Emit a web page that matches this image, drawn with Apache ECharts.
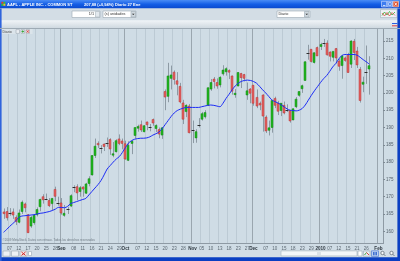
<!DOCTYPE html>
<html><head><meta charset="utf-8">
<script src="https://cdn.jsdelivr.net/npm/echarts@6/dist/echarts.min.js"></script>
<style>html,body{margin:0;padding:0;background:#cfdce5;overflow:hidden}#c{width:400px;height:261px}</style>
</head><body><div id="c"></div>
<script>
// ---- data (AAPL daily, Aug 2009 - Jan 2010) ----
const dates = [
'2009-08-05','2009-08-06','2009-08-07','2009-08-10','2009-08-11','2009-08-12','2009-08-13','2009-08-14','2009-08-17','2009-08-18','2009-08-19','2009-08-20','2009-08-21','2009-08-24','2009-08-25','2009-08-26','2009-08-27','2009-08-28','2009-08-31',
'2009-09-01','2009-09-02','2009-09-03','2009-09-04','2009-09-08','2009-09-09','2009-09-10','2009-09-11','2009-09-14','2009-09-15','2009-09-16','2009-09-17','2009-09-18','2009-09-21','2009-09-22','2009-09-23','2009-09-24','2009-09-25','2009-09-28','2009-09-29','2009-09-30',
'2009-10-01','2009-10-02','2009-10-05','2009-10-06','2009-10-07','2009-10-08','2009-10-09','2009-10-12','2009-10-13','2009-10-14','2009-10-15','2009-10-16','2009-10-19','2009-10-20','2009-10-21','2009-10-22','2009-10-23','2009-10-26','2009-10-27','2009-10-28','2009-10-29','2009-10-30',
'2009-11-02','2009-11-03','2009-11-04','2009-11-05','2009-11-06','2009-11-09','2009-11-10','2009-11-11','2009-11-12','2009-11-13','2009-11-16','2009-11-17','2009-11-18','2009-11-19','2009-11-20','2009-11-23','2009-11-24','2009-11-25','2009-11-27','2009-11-30',
'2009-12-01','2009-12-02','2009-12-03','2009-12-04','2009-12-07','2009-12-08','2009-12-09','2009-12-10','2009-12-11','2009-12-14','2009-12-15','2009-12-16','2009-12-17','2009-12-18','2009-12-21','2009-12-22','2009-12-23','2009-12-24','2009-12-28','2009-12-29','2009-12-30','2009-12-31',
'2010-01-04','2010-01-05','2010-01-06','2010-01-07','2010-01-08','2010-01-11','2010-01-12','2010-01-13','2010-01-14','2010-01-15','2010-01-19','2010-01-20','2010-01-21','2010-01-22','2010-01-25','2010-01-26','2010-01-27','2010-01-28','2010-01-29',
'2010-02-01','2010-02-02'];

const opens = [
165.6,165.7,165.2,165.6,164.0,162.6,165.7,167.9,164.8,161.5,162.5,164.8,167.1,170.0,169.5,168.9,168.0,172.1,168.2,
168.2,164.6,166.4,167.3,172.8,172.9,171.5,172.8,171.0,173.8,176.3,181.9,185.4,184.3,185.2,185.3,186.5,182.0,183.0,186.7,186.1,
185.3,180.5,185.4,187.7,189.8,190.8,188.8,191.6,190.1,192.3,189.7,189.4,187.8,200.4,199.0,204.2,206.0,203.5,201.9,197.1,194.6,196.2,
189.0,187.0,190.7,192.4,193.1,196.4,201.1,204.0,203.0,202.3,205.5,206.1,206.5,204.9,199.5,202.0,205.6,205.3,199.4,201.1,
202.2,198.7,197.0,199.4,193.0,189.2,190.0,198.4,197.0,194.9,196.4,195.3,194.9,192.2,196.0,199.3,201.2,203.6,211.7,212.6,208.8,213.1,
213.4,214.6,214.4,211.8,210.3,212.8,209.2,207.9,210.1,210.9,208.3,214.9,212.1,206.8,202.5,205.95,206.9];
const highs = [
166.6,167.0,166.7,166.6,164.6,166.3,168.9,168.3,165.0,164.4,165.0,166.9,169.4,170.7,170.9,169.6,169.6,172.9,170.0,
169.6,167.6,167.1,170.7,173.3,173.6,173.1,173.0,174.0,175.9,182.0,186.8,186.0,184.9,185.4,187.1,186.9,185.8,186.6,188.0,186.8,
186.2,186.0,186.3,190.0,190.8,192.0,190.7,191.7,191.0,192.6,190.9,190.0,190.1,201.0,208.7,207.9,206.5,206.0,202.9,198.0,196.7,196.8,
192.0,189.5,192.7,194.5,195.0,201.5,204.0,204.6,204.2,204.8,208.0,207.4,206.8,205.0,201.1,206.0,205.8,205.5,203.0,201.4,
202.3,201.0,197.5,199.6,193.5,192.0,197.9,198.9,197.7,197.0,197.5,196.7,195.0,195.5,198.8,200.4,202.4,209.1,213.9,212.7,211.7,213.4,
214.5,215.6,215.2,212.0,212.0,213.0,209.8,210.9,210.5,211.6,215.2,215.6,213.3,207.5,204.7,213.7,210.6];
const lows = [
163.6,163.1,164.5,163.6,161.8,162.3,165.0,165.5,159.5,161.0,161.9,164.3,165.8,168.0,169.0,167.0,166.0,168.7,167.4,
164.8,164.2,165.0,167.0,171.3,169.0,170.0,170.0,170.8,173.0,176.1,181.2,184.1,182.5,183.2,184.4,182.1,181.4,182.8,184.9,183.7,
180.7,180.3,182.3,186.8,188.8,188.7,188.6,189.2,188.9,190.5,188.7,186.9,186.7,195.0,197.3,201.0,202.4,199.3,197.0,191.0,193.0,188.3,
185.5,185.6,190.0,192.0,192.6,196.2,200.6,201.3,201.2,201.6,205.0,205.0,204.0,199.5,198.6,201.9,201.4,203.3,198.0,197.0,
196.3,195.6,195.0,188.8,188.4,187.7,188.5,195.6,193.6,193.3,193.8,194.5,191.4,192.1,195.6,198.9,200.0,203.6,209.6,208.8,208.5,210.7,
212.4,213.3,210.8,209.1,209.1,208.5,206.4,204.1,209.0,205.9,207.2,209.5,207.2,197.2,200.2,202.6,199.5];
const closes = [
165.1,163.9,165.5,164.7,162.8,165.3,168.4,166.8,159.6,164.0,164.6,166.3,169.2,169.1,169.4,167.4,169.5,170.1,168.2,
165.3,165.2,166.6,170.3,172.9,171.1,172.6,172.2,173.7,175.2,181.9,184.6,185.0,184.0,184.5,185.5,183.8,182.4,186.2,185.4,185.4,
180.9,184.9,186.0,190.0,190.3,189.3,190.5,190.8,190.0,191.3,190.6,188.1,189.9,198.8,204.9,205.2,203.9,202.5,197.4,192.4,196.4,188.5,
189.3,188.8,190.8,194.0,194.3,201.5,203.0,203.3,202.0,204.5,206.6,207.0,206.0,200.5,199.9,205.9,204.4,204.2,200.6,199.9,
197.0,196.2,196.5,193.3,189.0,189.9,197.8,196.4,194.7,197.0,194.2,195.0,191.9,195.4,198.2,200.4,202.1,209.0,211.6,209.1,211.6,210.7,
214.0,214.4,211.0,210.6,212.0,210.1,207.7,210.7,209.4,205.9,215.0,211.7,208.1,197.8,203.1,205.9,207.88];

// smoothed average line (blue)
const avgLine = [
159.7,160.5,161.4,162.2,163.0,164.0,164.4,164.5,164.6,164.7,164.8,165.0,165.2,165.3,165.5,165.7,166.0,166.4,166.9,
166.9,166.8,167.2,168.0,168.3,168.6,168.9,169.2,169.5,170.5,171.5,172.5,173.5,174.7,176.3,178.0,179.0,180.0,180.9,181.6,182.8,
184.2,185.5,186.2,186.6,186.8,186.9,186.9,187.0,187.3,187.8,188.2,188.7,189.6,190.8,192.0,193.2,194.2,194.9,195.3,195.6,195.8,195.8,
195.8,195.8,195.8,196.0,196.2,196.4,196.5,196.4,196.2,196.0,197.0,198.4,199.6,200.9,202.0,202.8,203.3,203.6,203.7,203.6,
203.3,202.8,201.9,200.9,200.0,199.0,198.0,197.5,197.1,196.6,196.0,195.4,195.0,194.9,194.8,195.0,195.5,196.5,197.9,199.3,200.6,201.8,
203.0,204.1,205.0,206.2,207.5,208.5,209.8,210.8,211.1,211.1,211.1,211.1,210.9,210.3,209.6,209.0,208.3];

const yTicks = [160,165,170,175,180,185,190,195,200,205,210,215];
const xTickDates = ['2009-08-07','2009-08-12','2009-08-17','2009-08-20','2009-08-25','2009-08-28',
 '2009-09-08','2009-09-11','2009-09-16','2009-09-21','2009-09-24','2009-09-29',
 '2009-10-07','2009-10-12','2009-10-15','2009-10-20','2009-10-23','2009-10-28',
 '2009-11-05','2009-11-10','2009-11-13','2009-11-18','2009-11-23','2009-11-27',
 '2009-12-07','2009-12-10','2009-12-15','2009-12-18','2009-12-23','2009-12-29',
 '2010-01-07','2010-01-12','2010-01-15','2010-01-21','2010-01-26'];
const xTickTexts = ['07','12','17','20','25','28','08','11','16','21','24','29','07','12','15','20','23','28',
 '05','10','13','18','23','27','07','10','15','18','23','29','07','12','15','21','26'];
const monthDates = ['2009-09-01','2009-10-01','2009-11-02','2009-12-01','2010-01-04','2010-02-01'];
const monthTexts = ['Sep','Oct','Nov','Dec','2010','Feb'];

const titleText = 'AAPL - APPLE INC. - COMMON ST';
const quoteText = '207,88 (+0,94%)';
const periodText = 'Diario';
const dateText = '27 Ene';

// ---- build ----
const labelMap = new Map();
xTickDates.forEach((d, k) => labelMap.set(d, xTickTexts[k]));
const monthMap = new Map();
monthDates.forEach((d, k) => monthMap.set(d, monthTexts[k]));

const candleData = closes.map((c, i) => [i, opens[i], c, lows[i], highs[i]]);
const lastClose = closes[closes.length - 1];

const FONT = '"Liberation Sans", Arial, sans-serif';

function renderCandle(params, api) {
  const i = api.value(0), o = api.value(1), c = api.value(2), l = api.value(3), h = api.value(4);
  const po = api.coord([i, o]), pc = api.coord([i, c]), pl = api.coord([i, l]), ph = api.coord([i, h]);
  const slot = api.size([1, 0])[0];
  const bw = Math.max(2, Math.round(slot * 0.7));
  const bx = Math.round(po[0] - bw / 2);
  const wx = bx + Math.floor(bw / 2) + 0.5;
  let top = Math.min(po[1], pc[1]), bot = Math.max(po[1], pc[1]);
  const up = c >= o;
  const children = [{type: 'line', shape: {x1: wx, y1: ph[1], x2: wx, y2: pl[1]},
                     style: {stroke: '#8d9aa4', lineWidth: 1}}];
  if (bot - top < 1.2) {
    const y = Math.round((top + bot) / 2) + 0.5;
    children.push({type: 'line', shape: {x1: bx - 0.5, y1: y, x2: bx + bw + 0.5, y2: y},
                   style: {stroke: '#2e2e2e', lineWidth: 1}});
  } else {
    children.push({type: 'rect', shape: {x: bx, y: top, width: bw, height: bot - top},
      style: {fill: up ? '#22b622' : '#e26060', stroke: up ? '#138a13' : '#b83a3a', lineWidth: 0.5}});
  }
  return {type: 'group', children};
}

const G = echarts.graphic;
function vgrad(stops) {
  return new G.LinearGradient(0, 0, 0, 1, stops.map((c, k) => ({offset: k / (stops.length - 1), color: c})));
}
function rect(x, y, w, h, fill, stroke) {
  return {type: 'rect', z: 50, shape: {x, y, width: w, height: h},
          style: {fill, stroke: stroke || null, lineWidth: stroke ? 0.6 : 0}};
}
function txt(x, y, t, font, fill, align) {
  return {type: 'text', z: 51, x, y, style: {text: t, font, fill, verticalAlign: 'middle', align: align || 'left'}};
}
function ln(x1, y1, x2, y2, stroke, w) {
  return {type: 'line', z: 51, shape: {x1, y1, x2, y2}, style: {stroke, lineWidth: w || 1}};
}
function tri(x, y) {
  return {type: 'polygon', z: 52, shape: {points: [[x - 1.3, y - 0.6], [x + 1.3, y - 0.6], [x, y + 0.8]]}, style: {fill: '#222'}};
}

const TF = 'bold 4px ' + FONT;
const chrome = [
  // title bar
  rect(0, 0, 400, 8.5, vgrad(['#4a8cf5', '#145ee6', '#0a48cc'])),
  rect(1.4, 1.8, 2, 2, '#e23a2a'), rect(3.4, 1.8, 2, 2, '#35c035'), rect(1.4, 3.8, 2, 2, '#35c035'), rect(3.4, 3.8, 2, 2, '#f0c020'),
  txt(7, 4.4, titleText, TF, '#ffffff'),
  txt(84, 4.4, quoteText, TF, '#ffffff'),
  txt(115, 4.4, periodText, TF, '#ffffff'),
  txt(127.5, 4.4, dateText, TF, '#ffffff'),
  rect(381.5, 1.3, 5.2, 5.6, '#3d7cf0', '#dfe8ff'),
  rect(387.3, 1.3, 5.2, 5.6, '#3d7cf0', '#dfe8ff'),
  rect(393.1, 1.3, 5.4, 5.6, '#e0502a', '#ffe0d0'),
  ln(383, 5.6, 385.4, 5.6, '#fff', 0.8),
  {type: 'rect', z: 52, shape: {x: 388.6, y: 2.6, width: 2.6, height: 2.8}, style: {fill: 'none', stroke: '#fff', lineWidth: 0.6}},
  ln(394.6, 2.6, 397, 5.6, '#fff', 0.8), ln(397, 2.6, 394.6, 5.6, '#fff', 0.8),
  // toolbar
  rect(0, 8.5, 400, 11.7, '#d3dde5'),
  rect(72, 11, 28, 6.5, '#ffffff', '#9aa7b1'),
  txt(94, 14.3, '1/1', '3.8px ' + FONT, '#333', 'right'),
  rect(95.5, 11.5, 4, 5.5, '#e3e9ee', '#aab5be'),
  rect(103, 11, 33, 6.5, '#ffffff', '#9aa7b1'),
  txt(104.5, 14.3, '(s) unidades', '3.8px ' + FONT, '#333'),
  rect(131, 11.5, 4.5, 5.5, '#cfd8df', '#9aa7b1'), tri(133.25, 14.3),
  rect(277, 11, 33, 6.5, '#ffffff', '#9aa7b1'),
  txt(278.5, 14.3, periodText, '3.8px ' + FONT, '#333'),
  rect(304.5, 11.5, 4.5, 5.5, '#cfd8df', '#9aa7b1'), tri(306.75, 14.3),
  rect(380.5, 9.6, 16.5, 8, '#eef2f5', '#9fb0bb'),
  {type: 'polyline', z: 52, shape: {points: [[382, 15.5], [384.5, 12], [387, 15], [389.5, 11.5], [392, 15], [395, 12]]}, style: {stroke: '#35b035', lineWidth: 0.8, fill: null}},
  {type: 'polyline', z: 52, shape: {points: [[382, 13], [384.5, 16], [387, 12.5], [389.5, 16], [392, 12.5], [395, 15.5]]}, style: {stroke: '#e05050', lineWidth: 0.8, fill: null}},
  // second strip
  rect(0, 20.2, 400, 8.3, vgrad(['#f1f5f8', '#dfe6eb', '#cdd7df'])),
  ln(392, 23.5, 397.5, 23.5, '#2a5fe0', 1), ln(392, 25.8, 397.5, 25.8, '#e04040', 1),
  ln(0, 28.5, 400, 28.5, '#9eabb5', 1),
  // chart corner label
  rect(1.6, 29, 31, 5, '#dbe4ea'),
  txt(2.5, 31.6, periodText, '3.5px ' + FONT, '#444'),
  rect(16, 29.6, 3.5, 3.8, '#e9eef2', '#a0aab3'), rect(21, 29.6, 3.5, 3.8, '#e9eef2', '#a0aab3'),
  rect(26, 29.6, 3.5, 3.8, '#f1e4e4', '#a0aab3'),
  ln(22.75, 30.2, 22.75, 32.8, '#2ca02c', 0.8), ln(21.5, 31.5, 24, 31.5, '#2ca02c', 0.8),
  ln(26.7, 30.3, 28.8, 32.7, '#d03030', 0.8), ln(28.8, 30.3, 26.7, 32.7, '#d03030', 0.8),
  // copyright line
  txt(2.5, 240.6, '©2009 MetaStock. Datos con retraso. Todos los derechos reservados', '3px ' + FONT, '#6f7b84'),
  // bottom toolbar
  rect(0, 250, 400, 7.2, '#d3dde5'),
  rect(3, 251, 7, 5.2, '#edf1f4', '#9aa7b1'), rect(11.5, 251, 7, 5.2, '#edf1f4', '#9aa7b1'),
  rect(20, 251, 7, 5.2, '#f4e8e8', '#9aa7b1'),
  ln(21.5, 252, 25.5, 255.4, '#d02a2a', 1), ln(25.5, 252, 21.5, 255.4, '#d02a2a', 1),
  rect(28.5, 251.6, 3, 4, '#ffffff', '#9aa7b1'),
  rect(281, 250.9, 76, 5, '#f3f6f8', '#a6b3bc'),
  ln(318, 252, 318, 255, '#a6b3bc', 0.6), ln(320, 252, 320, 255, '#a6b3bc', 0.6),
  rect(358, 251, 4, 5, '#ffffff', '#9aa7b1'),
  rect(363.5, 251, 6.5, 5.2, '#e8eef2', '#9aa7b1'),
  ln(364.5, 255, 366.5, 252.5, '#30a030', 0.9), ln(366.5, 252.5, 369, 255, '#d03030', 0.9),
  rect(371.5, 250.8, 7, 5.6, '#bcd0f0', '#3f6fd0'),
  rect(373, 252, 1.6, 3.2, '#3f6fd0'), rect(375.4, 252, 1.6, 3.2, '#3f6fd0'),
  {type: 'circle', z: 52, shape: {cx: 382.5, cy: 253, r: 1.7}, style: {fill: '#f6f8fa', stroke: '#55606a', lineWidth: 0.7}},
  ln(383.7, 254.2, 385.3, 255.8, '#55606a', 0.9),
  {type: 'circle', z: 52, shape: {cx: 391.5, cy: 253, r: 1.7}, style: {fill: '#f6f8fa', stroke: '#55606a', lineWidth: 0.7}},
  ln(392.7, 254.2, 394.3, 255.8, '#55606a', 0.9),
  // window frame
  rect(0, 257.2, 400, 3.8, '#0b3fc2'),
  rect(0, 8.5, 1.6, 252.5, '#2f64dc'),
  rect(397.4, 8.5, 2.6, 252.5, '#0b3fc2')
];

const chart = echarts.init(document.getElementById('c'), null, {renderer: 'canvas'});
chart.setOption({
  animation: false,
  backgroundColor: '#cfdce5',
  grid: {left: 2, right: 17, top: 29, bottom: 17.5},
  xAxis: [{
    type: 'category', data: dates, boundaryGap: true,
    axisLine: {show: true, lineStyle: {color: '#8e9aa4', width: 1}},
    axisTick: {show: false},
    axisLabel: {
      interval: (idx, val) => labelMap.has(val) || monthMap.has(val),
      formatter: (val) => monthMap.has(val) ? '{m|' + monthMap.get(val) + '}' : (labelMap.get(val) || ''),
      fontSize: 4.5, color: '#5c6872', margin: 2.5, fontFamily: 'Liberation Sans',
      rich: {m: {fontSize: 4.6, fontWeight: 'bold', color: '#2f3840', fontFamily: 'Liberation Sans'}}
    },
    splitLine: {show: true, interval: (idx, val) => labelMap.has(val),
      lineStyle: {color: '#bccad4', width: 1}}
  }, {
    type: 'category', data: dates, boundaryGap: true, position: 'bottom',
    axisLine: {show: false}, axisTick: {show: false}, axisLabel: {show: false},
    splitLine: {show: true, interval: (idx, val) => monthMap.has(val),
      lineStyle: {color: '#9aa6af', width: 1}}
  }],
  yAxis: {
    type: 'value', position: 'right', min: 156.47, max: 218.47,
    axisLine: {show: true, lineStyle: {color: '#8e9aa4', width: 1}},
    axisTick: {show: true, customValues: yTicks, length: 2, lineStyle: {color: '#7e8a94'}},
    axisLabel: {customValues: yTicks, fontSize: 4.5, color: '#56626c', margin: 3, fontFamily: 'Liberation Sans'},
    splitLine: {show: false}
  },
  series: [{
    type: 'custom', name: 'AAPL', xAxisIndex: 0, yAxisIndex: 0,
    data: candleData, renderItem: renderCandle, clip: true, z: 2,
    encode: {x: 0, y: [1, 2, 3, 4]}
  }, {
    type: 'line', name: 'Media', xAxisIndex: 0, data: avgLine, showSymbol: false, smooth: 0.3,
    lineStyle: {color: '#1c2cf5', width: 1}, z: 3,
    markLine: {
      silent: true, symbol: 'none', animation: false,
      data: [{yAxis: lastClose}],
      lineStyle: {opacity: 0},
      label: {show: true, position: 'end', distance: 2,
        formatter: () => lastClose.toFixed(2).replace('.', ','),
        backgroundColor: '#e6b01c', color: '#fffbe8', fontSize: 4.5, fontFamily: 'Liberation Sans',
        padding: [1.2, 1.6, 1, 1.6], borderColor: '#b98a10', borderWidth: 0.5}
    }
  }],
  graphic: {elements: chrome}
});
</script>
</body></html>
